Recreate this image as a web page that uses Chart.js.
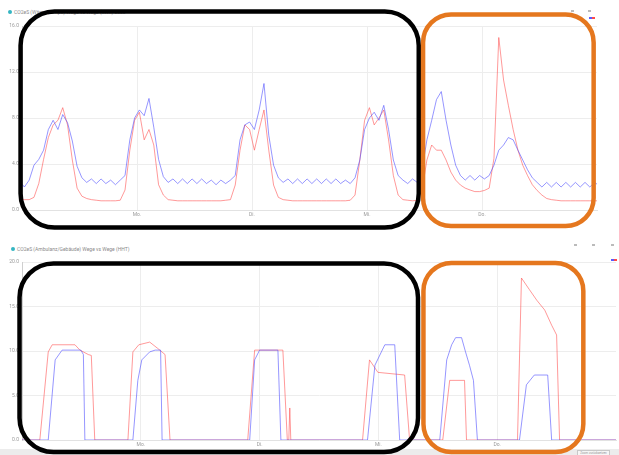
<!DOCTYPE html>
<html><head><meta charset="utf-8">
<script src="https://cdn.jsdelivr.net/npm/chart.js@4/dist/chart.umd.min.js"></script>
<style>
html,body{margin:0;padding:0;background:#fff;width:619px;height:455px;overflow:hidden;font-family:Roboto,'Open Sans',sans-serif;}
.abs{position:absolute}
.dot{width:4px;height:4px;border-radius:50%;background:#35b5c2}
.ttl{font-size:5px;color:#8a8a8a;white-space:nowrap;line-height:6px}
.ico{width:3px;height:2px;background:#bbb}
</style></head><body>
<!-- top header -->
<div class="abs dot" style="left:8px;top:10px"></div>
<div class="abs ttl" style="left:14px;top:9px">CO2eS (Wärmepumpe) Wege vs Wege (kWh) 2023</div>
<div class="abs ico" style="left:571px;top:10px"></div>
<div class="abs ico" style="left:588px;top:10px"></div>
<div class="abs" style="left:589px;top:17px;width:3px;height:2px;background:#5a5aff"></div>
<div class="abs" style="left:592px;top:17px;width:3px;height:2px;background:#ff4a4a"></div>
<!-- bottom header -->
<div class="abs dot" style="left:11px;top:247px"></div>
<div class="abs ttl" style="left:17px;top:246px">CO2eS (Ambulanz/Gebäude) Wege vs Wege (HHT)</div>
<div class="abs ico" style="left:574px;top:244px"></div>
<div class="abs ico" style="left:592px;top:244px"></div>
<div class="abs ico" style="left:611px;top:244px"></div>
<div class="abs" style="left:611px;top:259px;width:3px;height:2px;background:#5a5aff"></div>
<div class="abs" style="left:614px;top:259px;width:3px;height:2px;background:#ff4a4a"></div>
<!-- bottom band -->
<div class="abs" style="left:0;top:449px;width:619px;height:6px;background:#ececec"></div>
<div class="abs" style="left:577px;top:450px;width:31px;height:4px;border:0.5px solid #c8c8c8;background:#f6f6f6;font-size:3px;color:#999;line-height:4px;text-align:center">Zoom zurücksetzen</div>

<canvas id="c1" class="abs" width="619" height="236" style="left:0;top:0"></canvas>
<canvas id="c2" class="abs" width="619" height="219" style="left:0;top:236px"></canvas>
<script>
// ---------- DATA ----------
// time axis (hours), ticks
const xTickHours = [24, 48, 72, 96];
const xTickLabels = ['Mo.', 'Di.', 'Mi.', 'Do.'];

// top chart: hourly samples starting at this hour
const topStartHour = -1.5;
const topBlue = [2.2,2.5,2.0,2.6,3.9,4.4,5.2,7.0,7.8,7.0,8.3,7.6,6.0,3.8,2.8,2.4,2.7,2.3,2.7,2.3,2.6,2.2,2.6,3.0,6.1,8.0,8.7,8.2,9.7,7.2,4.4,2.9,2.4,2.7,2.3,2.7,2.3,2.7,2.3,2.7,2.3,2.6,2.2,2.6,2.3,2.6,3.0,6.1,7.4,7.65,7.0,8.7,11.0,6.5,3.9,2.8,2.4,2.7,2.3,2.7,2.3,2.7,2.3,2.7,2.3,2.7,2.3,2.7,2.3,2.6,2.3,2.8,4.35,7.0,8.0,8.5,7.8,9.1,7.0,4.35,3.0,2.6,2.3,2.7,2.4,3.5,6.1,7.8,9.6,10.3,7.8,5.65,3.9,3.0,2.6,3.0,2.6,3.0,2.7,3.0,3.9,5.2,5.65,6.3,6.1,5.2,4.35,3.5,2.8,2.4,2.0,2.4,2.0,2.4,2.0,2.4,2.0,2.4,2.0,2.4,2.0,2.4,2.1];
const topRed = [1.3,1.0,0.9,0.9,1.1,2.3,4.4,6.3,7.4,7.8,8.9,7.4,4.35,1.9,1.2,1.0,0.9,0.85,0.8,0.8,0.8,0.8,0.85,1.74,5.2,7.8,8.5,6.1,7.0,5.65,2.2,1.3,0.9,0.85,0.8,0.8,0.8,0.8,0.8,0.8,0.8,0.8,0.8,0.8,0.85,0.9,2.17,5.2,7.4,7.0,5.2,7.0,8.7,5.2,2.17,1.1,0.9,0.85,0.8,0.8,0.8,0.8,0.8,0.8,0.8,0.8,0.8,0.8,0.8,0.8,0.85,1.3,4.35,7.8,8.9,7.4,8.0,8.7,6.1,3.0,1.3,0.9,0.85,0.8,0.85,1.74,4.35,5.65,5.2,5.2,4.35,3.3,2.6,2.17,1.9,1.74,1.6,1.6,1.7,1.9,4.5,15.0,11.3,9.1,7.0,5.2,3.9,3.0,2.2,1.7,1.3,1.0,0.9,0.85,0.8,0.8,0.8,0.8,0.8,0.8,0.8,0.8,0.8];
const topYTicks = [0, 4, 8, 12, 16];
const topYTickLabels = ['0.0', '4.0', '8.0', '12.0', '16.0'];

// bottom chart: breakpoints (hours) and values
const botRedT = [0,3.6,5.3,6.1,10.7,11.7,13.4,14.0,14.7, 21.4,22.4,23.6,25.8,27.4,28.9,29.9, 45.6,47.0,52.7,53.6,53.9,54.1,54.3, 68.8,70.2,71.9,77.3,78.3, 85.0,86.4,89.4,89.8, 100.1,100.9,102.5,104.0,105.6,107.0,108.0,108.6, 120];
const botRedV = [0,0,9.9,10.7,10.7,10.1,9.6,9.5,0, 0,9.9,10.7,11.0,10.3,9.6,0, 0,10.1,10.1,0,0,3.6,0, 0,9.0,7.6,7.3,0, 0,6.7,6.7,0, 0,18.2,16.9,15.7,14.6,12.9,11.8,0, 0];
const botBlueT = [0,5.3,6.7,8.1,11.9,12.4,12.7, 22.4,23.4,24.2,25.8,26.9,28.0,28.3, 46.0,47.0,48.0,51.7,52.3, 69.8,71.3,73.3,75.3,76.3, 84.4,85.8,86.8,87.6,88.8,89.6,90.4,91.2,92.0, 100.5,101.9,103.5,106.2,107.0, 120];
const botBlueV = [0,0,9.0,10.1,10.1,9.6,0, 0,6.7,9.0,9.9,10.1,10.1,0, 0,9.0,10.1,10.1,0, 0,8.4,10.7,10.7,0, 0,9.0,10.7,11.5,11.5,9.9,8.4,6.7,0, 0,6.2,7.3,7.3,0, 0];
const botYTicks = [0, 5, 10, 15, 20];
const botYTickLabels = ['0.0', '5.0', '10.0', '15.0', '20.0'];

// ---------- annotation boxes (hour ranges) ----------
const topBoxes = [
  {from: -0.3, to: 82.8, padTop: 14.5, padBottom: 17.5, color: '#000000', radius: 34, width: 4.5},
  {from: 83.7, to: 119.3, padTop: 11.5, padBottom: 16, color: '#E5771E', radius: 28, width: 4.5}
];
const botBoxes = [
  {from: -0.5, to: 80.0, padTop: -1.5, padBottom: 12, color: '#000000', radius: 34, width: 4.5},
  {from: 81.1, to: 113.4, padTop: -1, padBottom: 12, color: '#E5771E', radius: 28, width: 4.5}
];

const boxPlugin = {
  id: 'boxes',
  afterDraw(chart) {
    const boxes = chart.config._config.boxes || [];
    const {ctx, chartArea, scales} = chart;
    boxes.forEach(b => {
      const x1 = scales.x.getPixelForValue(b.from), x2 = scales.x.getPixelForValue(b.to);
      const y1 = chartArea.top - b.padTop, y2 = chartArea.bottom + b.padBottom;
      const r = b.radius;
      ctx.save();
      ctx.strokeStyle = b.color; ctx.lineWidth = b.width;
      ctx.beginPath();
      ctx.moveTo(x1 + r, y1);
      ctx.arcTo(x2, y1, x2, y2, r);
      ctx.arcTo(x2, y2, x1, y2, r);
      ctx.arcTo(x1, y2, x1, y1, r);
      ctx.arcTo(x1, y1, x2, y1, r);
      ctx.closePath();
      ctx.stroke();
      ctx.restore();
    });
  }
};

const BLUE = 'rgba(80,80,255,0.6)';
const RED = 'rgba(255,70,70,0.55)';
const FONT = {family: "Roboto, 'Open Sans', sans-serif", size: 5};

function makeChart(id, blue, red, yTicks, yLabels, yMax, xH, pad, boxes) {
  return new Chart(document.getElementById(id), {
    type: 'line',
    boxes: boxes,
    data: {datasets: [
      {data: blue, borderColor: BLUE, borderWidth: 1, pointRadius: 0, tension: 0, fill: false},
      {data: red, borderColor: RED, borderWidth: 1, pointRadius: 0, tension: 0, fill: false}
    ]},
    options: {
      responsive: false, animation: false, devicePixelRatio: 1,
      layout: {padding: pad},
      plugins: {legend: {display: false}, tooltip: {enabled: false}, title: {display: false}},
      scales: {
        x: {
          type: 'linear', min: 0, max: 120,
          afterBuildTicks: s => { s.ticks = xTickHours.map(v => ({value: v})); },
          afterFit: s => { s.height = xH; },
          ticks: {font: FONT, color: '#9a9a9a', maxRotation: 0, padding: 2, autoSkip: false,
                  callback: v => xTickLabels[xTickHours.indexOf(v)]},
          grid: {color: '#ededed', drawTicks: false},
          border: {color: '#e2e2e2'}
        },
        y: {
          min: 0, max: yMax,
          afterBuildTicks: s => { s.ticks = yTicks.map(v => ({value: v})); },
          afterFit: s => { s.width = 22; },
          ticks: {font: FONT, color: '#9a9a9a', padding: 3,
                  callback: v => yLabels[yTicks.indexOf(v)]},
          grid: {color: '#ededed', drawTicks: false},
          border: {color: '#cfcfcf'}
        }
      }
    },
    plugins: [boxPlugin]
  });
}

const topBlueData = topBlue.map((v, i) => ({x: topStartHour + i, y: v}));
const topRedData = topRed.map((v, i) => ({x: topStartHour + i, y: v}));
const botBlueData = botBlueT.map((t, i) => ({x: t, y: botBlueV[i]}));
const botRedData = botRedT.map((t, i) => ({x: t, y: botRedV[i]}));

makeChart('c1', topBlueData, topRedData, topYTicks, topYTickLabels, 16, 26, {top: 26, right: 22, left: 0, bottom: 0}, topBoxes);
makeChart('c2', botBlueData, botRedData, botYTicks, botYTickLabels, 20, 15, {top: 26, right: 3, left: 0, bottom: 0}, botBoxes);
</script>
</body></html>
